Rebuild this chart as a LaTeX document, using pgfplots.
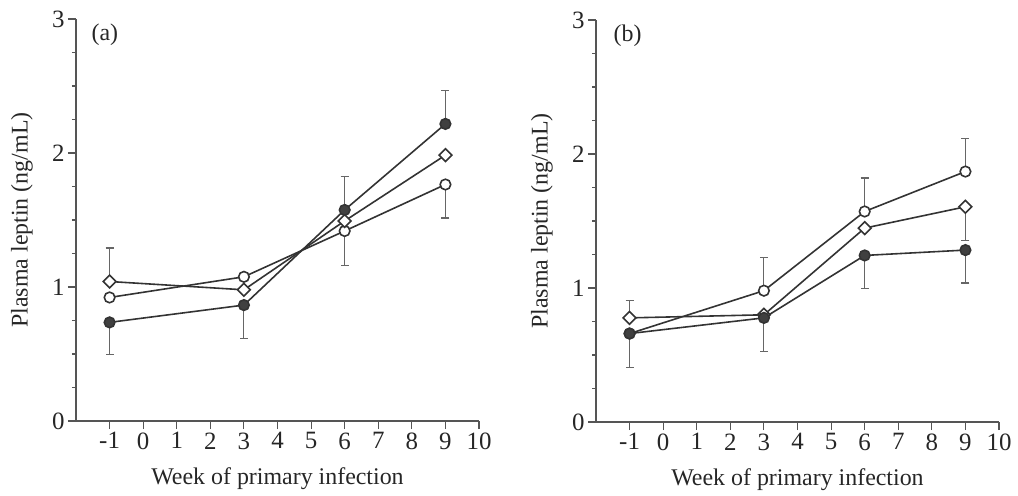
\documentclass[border=0pt]{standalone}
\usepackage{fontspec}
\setmainfont{Liberation Serif}
\usepackage{pgfplots}
\pgfplotsset{compat=1.18}
\definecolor{ln}{HTML}{333333}
\definecolor{ax}{HTML}{555555}
\definecolor{eb}{HTML}{666666}
\definecolor{fil}{HTML}{404040}
\pgfplotsset{
  panel/.style={
    scale only axis, width=403bp, height=402bp,
    xmin=-2, xmax=10, ymin=0, ymax=3,
    axis x line*=bottom, axis y line*=left,
    axis line style={line width=1.1pt, color=ax},
    xtick={-1,0,...,10}, ytick={0,1,2,3},
    minor ytick={0.25,0.5,0.75,1.25,1.5,1.75,2.25,2.5,2.75},
    tick align=outside, major tick length=8bp, minor tick length=4bp,
    every tick/.style={line width=1.1pt, color=ax},
    tick label style={font=\fontsize{25}{25}\selectfont, text=black!85},
    /pgf/number format/assume math mode=true,
    xlabel={Week of primary infection},
    ylabel={Plasma leptin (ng/mL)},
    every axis x label/.style={at={(axis description cs:0.5,-0.159)}, anchor=base, font=\fontsize{24}{24}\selectfont, text=black!85},
    every axis y label/.style={at={(axis description cs:-0.134,0.5)}, rotate=90, anchor=center, font=\fontsize{24}{24}\selectfont, text=black!85},
    clip=false,
  },
  ser/.style={color=ln, line width=1.6pt, mark options={line width=1.3pt, draw=ln, solid}},
  fc/.style={ser, mark=*, mark size=5.3bp, mark options={fill=fil}},
  oc/.style={ser, mark=*, mark size=5.3bp, mark options={fill=white}},
  dm/.style={ser, mark=square*, mark size=4.5bp, mark options={fill=white, rotate=45}},
  ebp/.style={draw=none, mark=none, forget plot,
    error bars/.cd, y dir=plus, y explicit,
    error bar style={line width=1.1pt, color=eb},
    error mark options={line width=1.1pt, color=eb, mark size=4bp, rotate=90}},
  ebm/.style={draw=none, mark=none, forget plot,
    error bars/.cd, y dir=minus, y explicit,
    error bar style={line width=1.1pt, color=eb},
    error mark options={line width=1.1pt, color=eb, mark size=4bp, rotate=90}},
}
\begin{document}
\begin{tikzpicture}
\path[use as bounding box] (0,0) rectangle (1018bp,496bp);
% ---------- panel (a)
\begin{axis}[panel, at={(76bp,75bp)}, anchor=south west]
\addplot[ebp] coordinates {(-1,1.041) +- (0,0.25) (6,1.575) +- (0,0.25) (9,2.217) +- (0,0.25)};
\addplot[ebm] coordinates {(-1,0.736) +- (0,0.24) (3,0.865) +- (0,0.25) (6,1.418) +- (0,0.255) (9,1.765) +- (0,0.25)};
\addplot[oc] coordinates {(-1,0.922) (3,1.076) (6,1.418) (9,1.765)};
\addplot[dm] coordinates {(-1,1.041) (3,0.979) (6,1.493) (9,1.984)};
\addplot[fc] coordinates {(-1,0.736) (3,0.865) (6,1.575) (9,2.217)};
\node[anchor=west, font=\fontsize{24}{24}\selectfont, text=black!85] at (axis description cs:0.03,0.96) {(a)};
\end{axis}
% ---------- panel (b)
\begin{axis}[panel, at={(596bp,74bp)}, anchor=south west]
\addplot[ebp] coordinates {(-1,0.777) +- (0,0.13) (3,0.98) +- (0,0.25) (6,1.571) +- (0,0.25) (9,1.869) +- (0,0.25)};
\addplot[ebm] coordinates {(-1,0.66) +- (0,0.25) (3,0.777) +- (0,0.25) (6,1.243) +- (0,0.25) (9,1.606) +- (0,0.25) (9,1.283) +- (0,0.246)};
\addplot[oc] coordinates {(-1,0.66) (3,0.98) (6,1.571) (9,1.869)};
\addplot[dm] coordinates {(-1,0.777) (3,0.80) (6,1.447) (9,1.606)};
\addplot[fc] coordinates {(-1,0.66) (3,0.777) (6,1.243) (9,1.283)};
\node[anchor=west, font=\fontsize{24}{24}\selectfont, text=black!85] at (axis description cs:0.035,0.96) {(b)};
\end{axis}
\end{tikzpicture}
\end{document}
